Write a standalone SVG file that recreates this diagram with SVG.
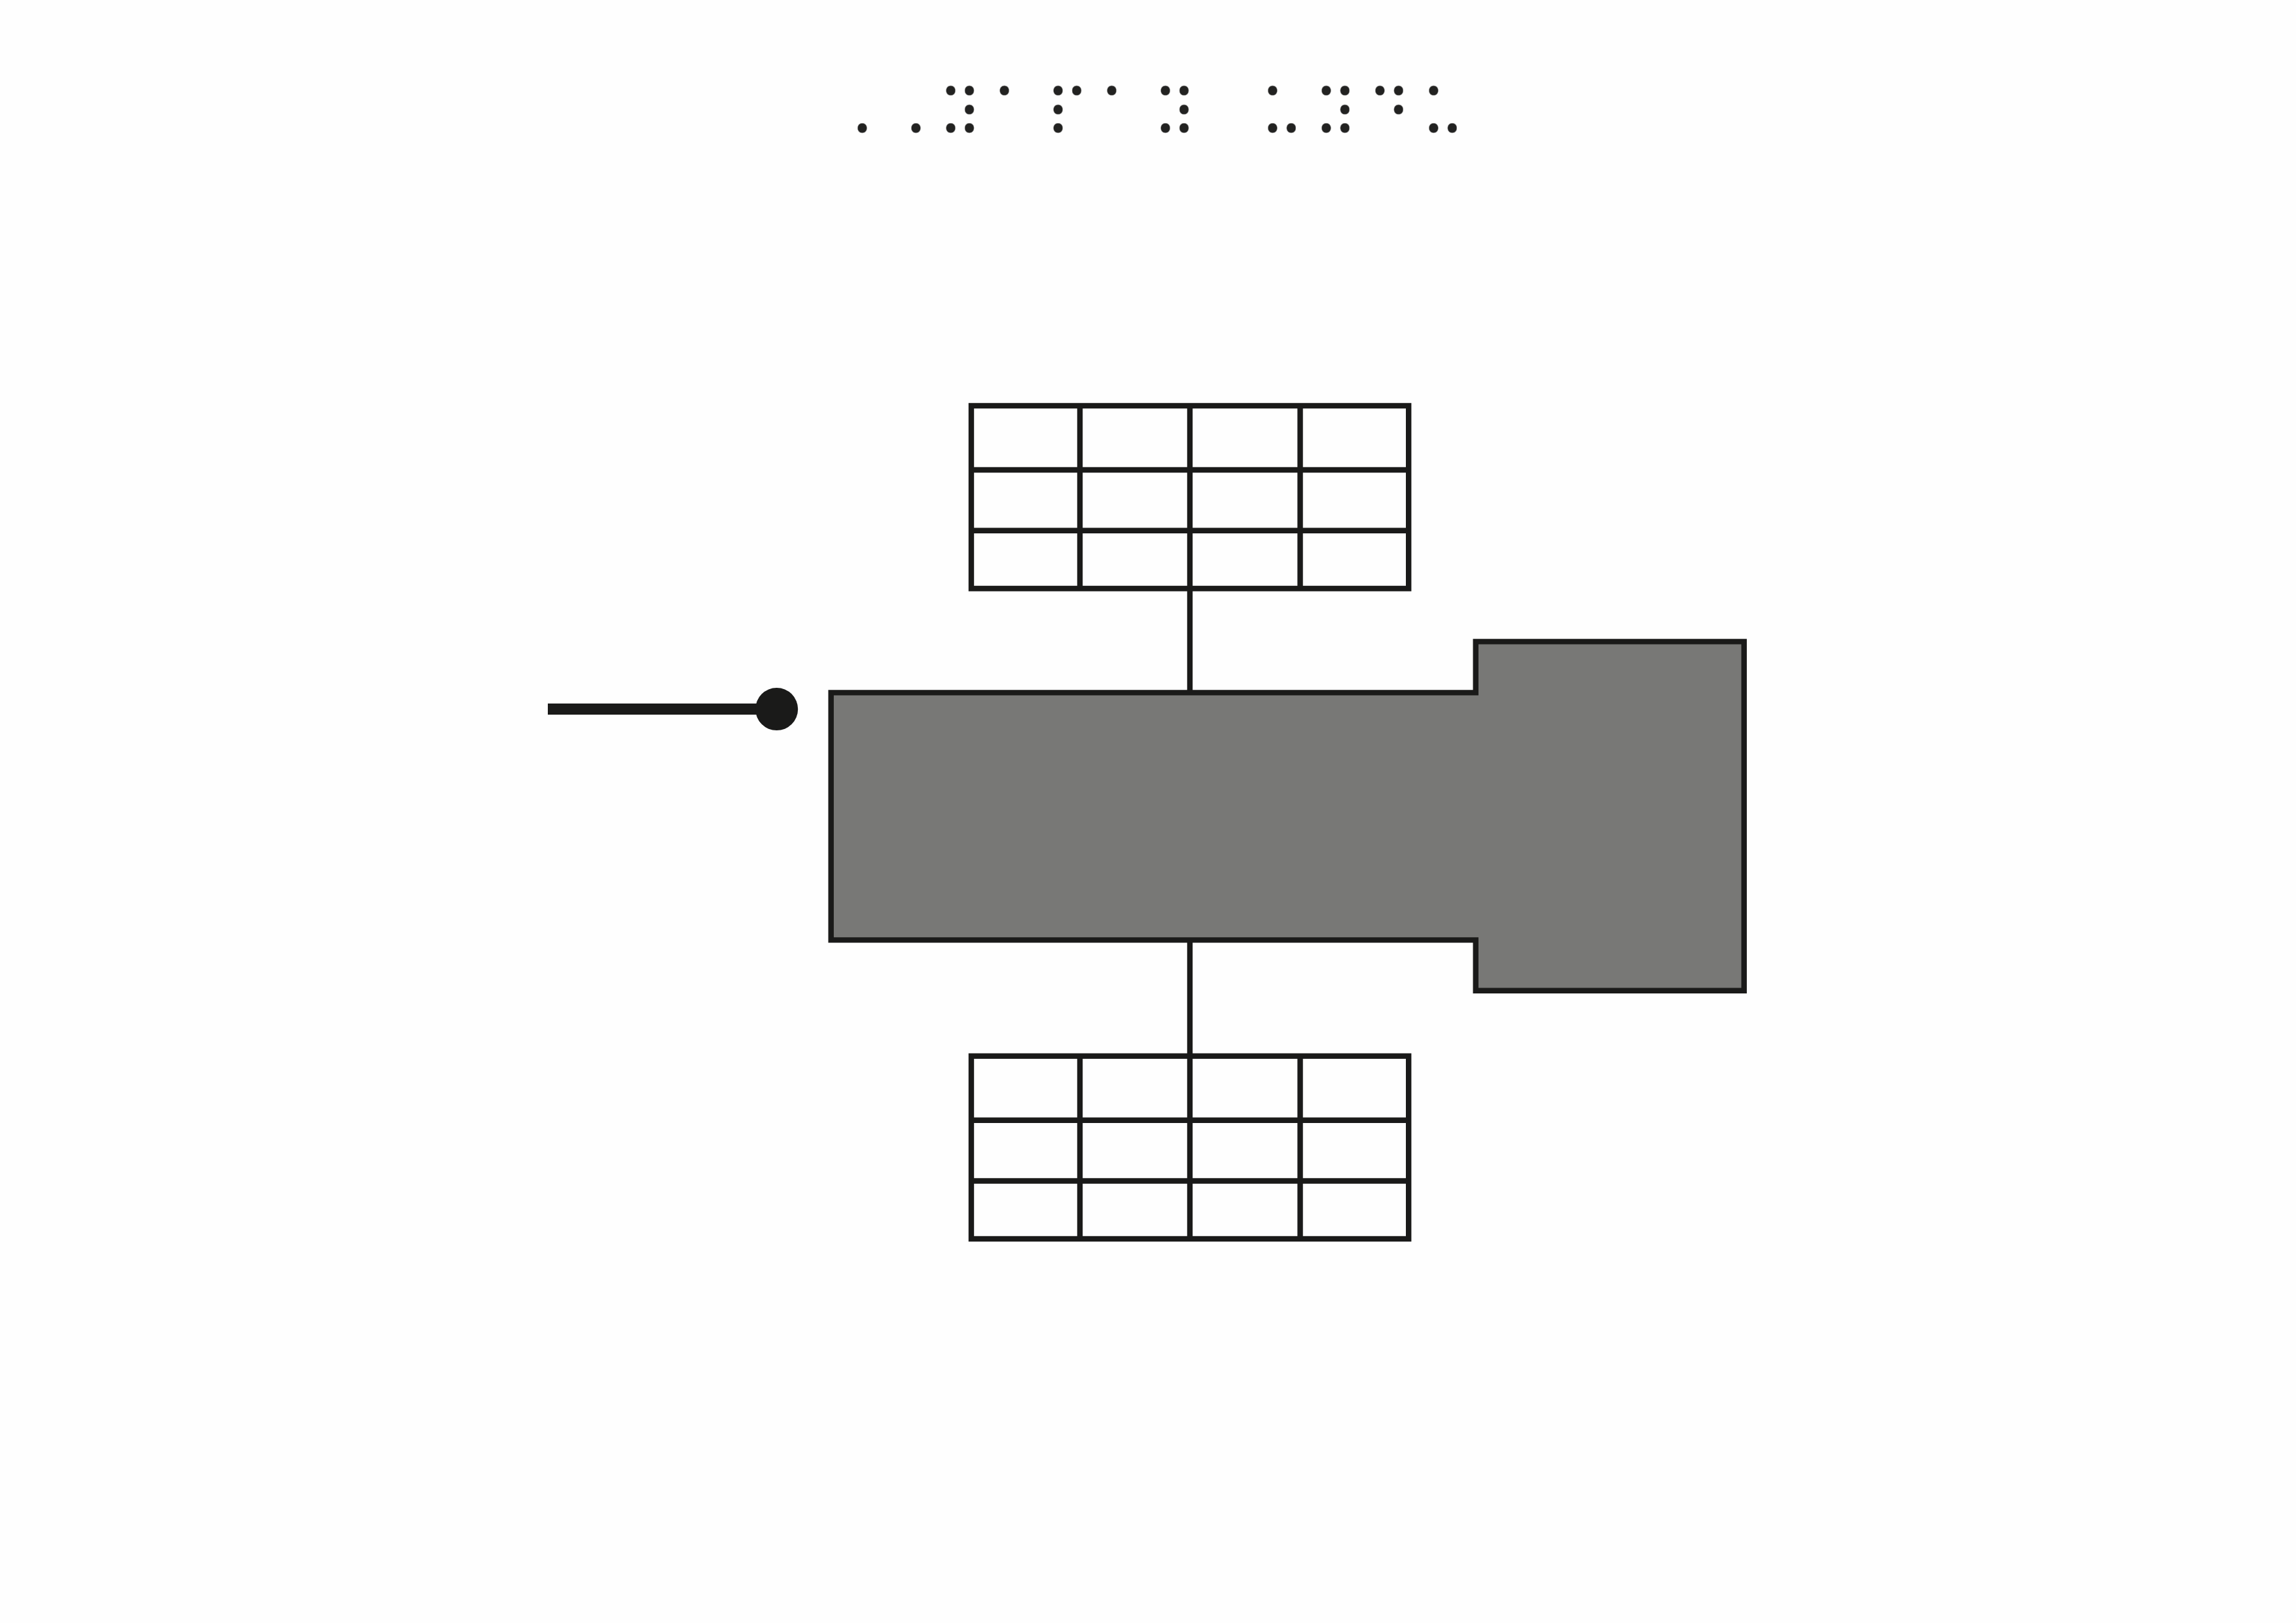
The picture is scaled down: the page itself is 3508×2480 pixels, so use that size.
<svg xmlns="http://www.w3.org/2000/svg" width="3508" height="2480" viewBox="0 0 3508 2480">
<defs>
<g id="grid">
<rect x="1484" y="0" width="668.2" height="279.3"/>
<path d="M1650 0V279.3M1818 0V279.3M1986.5 0V279.3M1484 98H2152.2M1484 190.8H2152.2"/>
</g>
<filter id="round-dots" filterUnits="userSpaceOnUse" x="1250" y="100" width="1010" height="130" color-interpolation-filters="sRGB">
<feGaussianBlur stdDeviation="4"/>
<feComponentTransfer><feFuncA type="linear" slope="8" intercept="-3.34"/></feComponentTransfer>
</filter>
</defs>
<style>
.s{fill:none;stroke:#1a1a19;stroke-width:8.4}
text{font-family:"DejaVu Sans",sans-serif;fill:#222221}
</style>
<rect width="3508" height="2480" fill="#fefefe"/>
<g id="title" filter="url(#round-dots)"><text transform="translate(1267.7 211.5) scale(0.969 1.0416)" font-size="100" letter-spacing="11.35">⠠⠠⠽⠁⠏⠁⠽⠀⠥⠽⠙⠥</text></g>
<g id="connectors">
<path class="s" d="M1818 899V1058.4M1818 1436.4V1613.7"/>
<path id="pointer-line" d="M837 1083.6H1186" fill="none" stroke="#1a1a19" stroke-width="17"/>
</g>
<g id="grid-top" class="s"><use href="#grid" y="620"/></g>
<g id="grid-bottom" class="s"><use href="#grid" y="1613.7"/></g>
<g id="body"><path class="s" style="fill:#787876" d="M1269.7 1058.4H2254.7V980.4H2664.7V1513.7H2254.7V1436.4H1269.7Z"/></g>
<g id="pointer-dot"><circle cx="1186.7" cy="1083.6" r="32.5" fill="#1a1a19"/></g>
</svg>
